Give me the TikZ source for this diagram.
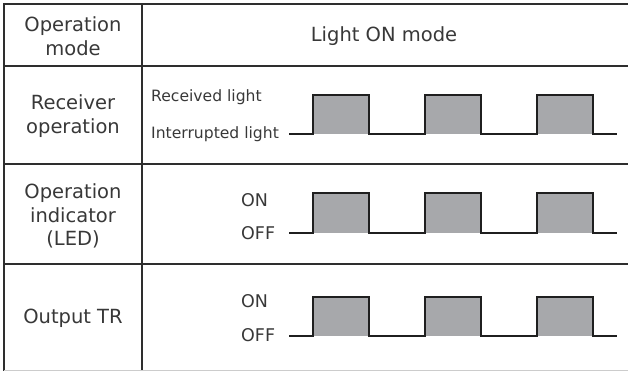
\documentclass[tikz,border=0pt]{standalone}
\usepackage{fontspec}
\setmainfont{DejaVu Sans}
\usepackage{xcolor}
\usepackage{tikz}

\definecolor{pulsegray}{HTML}{A7A8AB}
\definecolor{rulegray}{HTML}{2E2E2E}

\begin{document}
\begin{tikzpicture}[x=1pt, y=-1pt,
    cell/.style={align=center, font=\fontsize{19.5}{23.5}\selectfont, text=black!78},
    level/.style={anchor=west, inner sep=0pt, font=\fontsize{15.6}{18}\selectfont, text=black!78},
    onoff/.style={level, font=\fontsize{17.5}{20}\selectfont},
    rule/.style={line width=1.3pt, rulegray},
    wave/.style={line width=1.3pt, black!88}]
    \useasboundingbox (0,0) rectangle (628,371);

    % Table lines
    \draw[rule] (628,4) -- (4,4) -- (4,371);
    \draw[rule] (142,4) -- (142,371);
    \foreach \y in {66,164,264}
        \draw[rule] (4,\y) -- (628,\y);
    \draw[line width=1pt, black!20] (4,370) -- (628,370);

    % Header
    \node[cell] (opmode) at (73,36) {Operation\\mode};
    \node[cell] (lighton) at (384,36) {Light ON mode};

    % Row names
    \node[cell] (receiver) at (73,116) {Receiver\\operation};
    \node[cell] (indicator) at (73,216) {Operation\\indicator\\(LED)};
    \node[cell] (output) at (73,318) {Output TR};

    % Level labels
    \node[level] (recvlight) at (151,97) {Received light};
    \node[level] (intlight) at (151,134) {Interrupted light};
    \node[onoff] (ledon) at (241,200) {ON};
    \node[onoff] (ledoff) at (241,233) {OFF};
    \node[onoff] (tron) at (241,301) {ON};
    \node[onoff] (troff) at (241,335) {OFF};

    % Pulse trains
    \foreach \hi/\lo in {95/134, 193/233, 297/336} {
        \foreach \x in {313,425,537}
            \fill[pulsegray] (\x,\hi) rectangle (\x+56,\lo);
        \draw[wave] (289,\lo)
            \foreach \x in {313,425,537} { -- (\x,\lo) -- (\x,\hi) -- (\x+56,\hi) -- (\x+56,\lo) }
            -- (617,\lo);
    }
\end{tikzpicture}
\end{document}
